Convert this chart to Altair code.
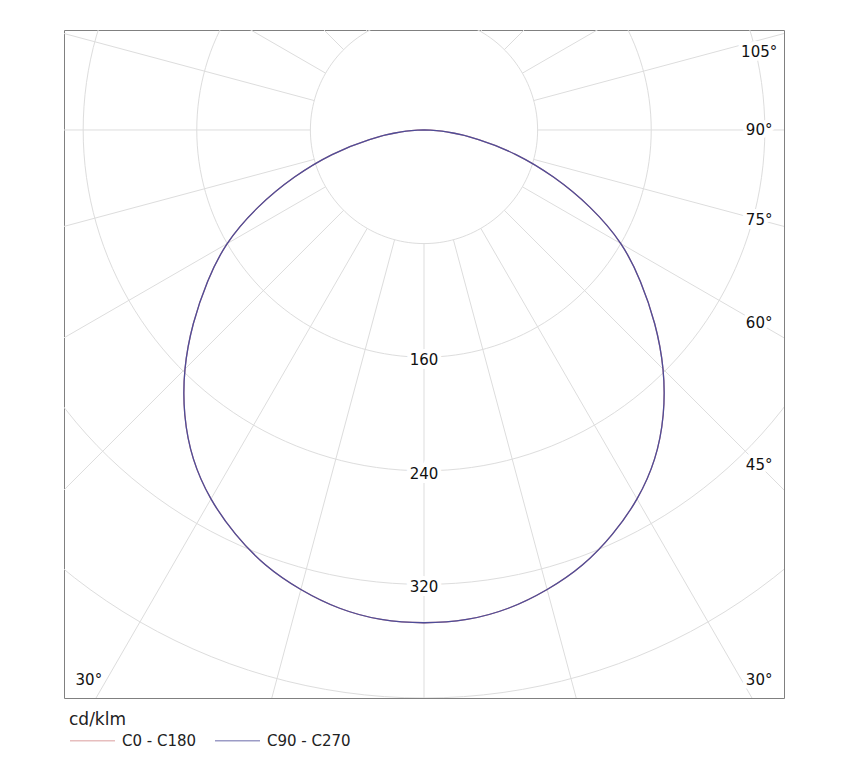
import altair as alt
import pandas as pd

# gamma angle from nadir (deg) and luminous intensity (cd/klm)
gamma = [0, 5, 10, 15, 20, 25, 30, 35, 40, 45, 50, 55, 60, 65, 70, 75, 80, 85, 90]
c0_c180 = [347, 346, 342, 335, 326, 314, 300, 283, 262, 238, 212, 186, 160, 129, 97, 67, 39, 16, 0]
c90_c270 = [347, 346, 342, 335, 326, 314, 300, 283, 262, 238, 212, 186, 160, 129, 97, 67, 39, 16, 0]
series = ["C0 - C180", "C90 - C270"]
colors = ["#d48a8a", "#4d4d99"]

grid_radii = [80, 160, 240, 320, 400]
spoke_angles = list(range(0, 360, 15))
radius_labels = [160, 240, 320]
angle_labels_right = [105, 90, 75, 60, 45, 30]
angle_labels_left = [30]

FONT = "DejaVu Sans"
DEG = "PI / 180"

# both half planes of each C plane, left side gets negative gamma
rows = []
for name, vals in zip(series, [c0_c180, c90_c270]):
    for g, v in zip(gamma[::-1], vals[::-1]):
        rows.append({"series": name, "g": -g, "I": v})
    for g, v in zip(gamma[1:], vals[1:]):
        rows.append({"series": name, "g": g, "I": v})
curve_df = pd.DataFrame(rows)

circle_df = pd.DataFrame([{"r": r, "t": t} for r in grid_radii for t in range(0, 362, 2)])
spoke_df = pd.DataFrame({"a": spoke_angles})
rlab_df = pd.DataFrame({"r": radius_labels})
alab_df = pd.DataFrame(
    [{"a": a, "side": 1} for a in angle_labels_right]
    + [{"a": a, "side": -1} for a in angle_labels_left]
)

xs = alt.Scale(domain=[-253.5, 253.5], nice=False, zero=False)
ys = alt.Scale(domain=[-400, 70.4], nice=False, zero=False)


def xy(fx, fy):
    return dict(x=alt.X(fx, type="quantitative", scale=xs, axis=None),
                y=alt.Y(fy, type="quantitative", scale=ys, axis=None))


circles = alt.Chart(circle_df).mark_line(
    color="#dddddd", strokeWidth=1, clip=True
).transform_calculate(
    cx=f"datum.r * sin(datum.t * {DEG})",
    cy=f"-datum.r * cos(datum.t * {DEG})",
).encode(detail="r:N", order="t:Q", **xy("cx", "cy"))

spokes = alt.Chart(spoke_df).mark_rule(
    color="#dddddd", strokeWidth=1, clip=True
).transform_calculate(
    sx=f"{grid_radii[0]} * sin(datum.a * {DEG})",
    sy=f"-{grid_radii[0]} * cos(datum.a * {DEG})",
    ex=f"800 * sin(datum.a * {DEG})",
    ey=f"-800 * cos(datum.a * {DEG})",
).encode(x2="ex:Q", y2="ey:Q", **xy("sx", "sy"))

curve = alt.Chart(curve_df).mark_line(
    strokeWidth=1.3, interpolate="natural"
).transform_calculate(
    px=f"datum.I * sin(datum.g * {DEG})",
    py=f"-datum.I * cos(datum.g * {DEG})",
).encode(
    color=alt.Color("series:N", scale=alt.Scale(domain=series, range=colors),
                    legend=alt.Legend(
                        title="cd/klm", orient="none", legendX=5, legendY=682,
                        direction="horizontal", symbolType="stroke",
                        symbolSize=2025, symbolStrokeWidth=1.5, symbolOpacity=0.55,
                        labelFont=FONT, labelFontSize=15, labelColor="#222",
                        titleFont=FONT, titleFontSize=17, titleFontWeight="normal",
                        titleColor="#222", columnPadding=15, labelOffset=6,
                        padding=0, titlePadding=-12)),
    order="g:Q",
    **xy("px", "py"),
)

rlab_base = alt.Chart(rlab_df).transform_calculate(
    lx="0", ly="-datum.r", txt="toString(datum.r)"
).encode(text="txt:N", **xy("lx", "ly"))
rlab_halo = rlab_base.mark_text(font=FONT, fontSize=15, dy=3, color="white",
                                stroke="white", strokeWidth=8)
rlab = rlab_base.mark_text(font=FONT, fontSize=15, dy=3, color="#111")

alab_base = alt.Chart(alab_df).transform_calculate(
    lx="datum.side * 236",
    ly=f"clamp(-236 * cos(datum.a * {DEG}) / sin(datum.a * {DEG}), -387, 55)",
    txt="toString(datum.a) + '°'",
).encode(text="txt:N", **xy("lx", "ly"))
alab_halo = alab_base.mark_text(font=FONT, fontSize=15, color="white",
                                stroke="white", strokeWidth=8)
alab = alab_base.mark_text(font=FONT, fontSize=15, color="#111")

chart = alt.layer(
    circles, spokes, curve, rlab_halo, rlab, alab_halo, alab
).properties(
    width=720, height=668,
    padding={"left": 56, "top": 22, "right": 20, "bottom": 10},
).configure_view(stroke="#808080", strokeWidth=1)

chart.save("out.html", embed_options={"renderer": "svg", "actions": False})
